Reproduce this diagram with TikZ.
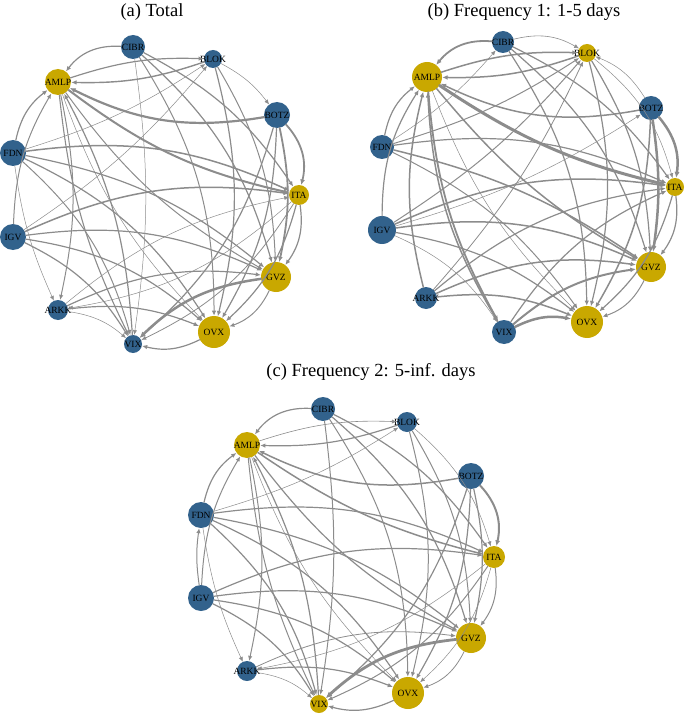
\documentclass[tikz,border=0pt]{standalone}
\usepackage{fontspec}
\setmainfont{Liberation Serif}
\usetikzlibrary{arrows.meta}
\definecolor{nblue}{RGB}{50,98,140}
\definecolor{ngold}{RGB}{201,168,0}
\definecolor{egray}{RGB}{140,140,140}
\newcommand{\nodefnt}{\fontsize{9.5}{10}\selectfont}
\newcommand{\ttlfnt}{\fontsize{18.5}{20}\selectfont}
\tikzset{
  vb/.style={circle, fill=nblue, draw=none, inner sep=0pt, font=\nodefnt, text=black},
  vg/.style={circle, fill=ngold, draw=none, inner sep=0pt, font=\nodefnt, text=black},
  edge/.style={draw=egray, -{Latex[length=4.5pt 0.6,width=3.8pt 0.6]}, line cap=round},
  ttl/.style={font=\ttlfnt, inner sep=0pt}
}
\begin{document}
\begin{tikzpicture}[x=1pt,y=-1pt]
\useasboundingbox (0,0) rectangle (685,714);
% titles
\node[ttl] (ta) at (152,12) {(a) Total};
\node[ttl] (tb) at (524,12) {(b) Frequency 1: 1-5 days};
\node[ttl] (tc) at (371,372) {(c) Frequency 2: 5-inf. days};
% ---------- panel a nodes
\foreach \n/\x/\y/\r/\c in {CIBR/133/47/12/vb, BLOK/213/59/9/vb, AMLP/58/82/13/vg, BOTZ/277/115/13/vb,
  FDN/13/153/13/vb, ITA/299/195/10/vg, IGV/13/237/13/vb, GVZ/276/277/15/vg, ARKK/58/310/10/vb,
  OVX/214/332/16/vg, VIX/133/344/9/vb}
  \node[\c, minimum size={2*\r pt}] (a-\n) at (\x,\y) {\makebox[0pt]{\n}};
% ---------- panel b nodes
\foreach \n/\x/\y/\r/\c in {CIBR/503/42/11/vb, BLOK/587/53/9/vg, AMLP/427/77/15/vg, BOTZ/651/108/12/vb,
  FDN/382/147/12/vb, ITA/675/187/9/vg, IGV/382/230/14/vb, GVZ/651/267/15/vg, ARKK/426/298/11/vb,
  OVX/587/322/16/vg, VIX/504/332/12/vb}
  \node[\c, minimum size={2*\r pt}] (b-\n) at (\x,\y) {\makebox[0pt]{\n}};
% ---------- panel c nodes
\foreach \n/\x/\y/\r/\c in {CIBR/323/409/12/vb, BLOK/407/422/10/vb, AMLP/247/445/13/vg, BOTZ/471/476/13/vb,
  FDN/201/515/13/vb, ITA/494/557/11/vg, IGV/201/598/13/vb, GVZ/471/638/15/vg, ARKK/247/671/10/vb,
  OVX/408/693/16/vg, VIX/319/704/9/vg}
  \node[\c, minimum size={2*\r pt}] (c-\n) at (\x,\y) {\makebox[0pt]{\n}};
% ---------- panel a edges
\foreach \s/\t/\w/\b in {
  CIBR/AMLP/1.2/-28, BLOK/AMLP/1.4/10, AMLP/BLOK/1.2/10, BOTZ/AMLP/2.2/18,
  AMLP/ITA/2.0/-12, AMLP/GVZ/1.0/-12, AMLP/OVX/0.5/-12, AMLP/VIX/1.1/-10, VIX/AMLP/1.2/-12, AMLP/ARKK/1.0/12,
  CIBR/ITA/1.2/14, CIBR/GVZ/1.2/16, CIBR/OVX/1.0/16, CIBR/VIX/0.5/8,
  BLOK/OVX/1.2/14, BLOK/GVZ/1.0/14, BLOK/BOTZ/0.5/12,
  BOTZ/ITA/1.8/28, BOTZ/GVZ/1.8/12, BOTZ/OVX/1.2/14, BOTZ/VIX/1.2/16,
  ITA/GVZ/1.2/22, ITA/OVX/1.2/16, ITA/VIX/0.8/16, ITA/ARKK/0.5/16,
  FDN/AMLP/1.2/20, FDN/BLOK/0.5/-8, FDN/ITA/1.5/16, FDN/GVZ/1.2/14, FDN/OVX/1.2/16, FDN/VIX/1.0/16, FDN/ARKK/0.5/-8,
  IGV/AMLP/1.0/14, IGV/BLOK/0.5/-8, IGV/ITA/1.5/16, IGV/GVZ/1.2/16, IGV/OVX/1.2/16, IGV/VIX/1.2/16,
  ARKK/GVZ/1.2/16, ARKK/OVX/1.2/14, ARKK/VIX/0.5/16, ARKK/ITA/0.5/14,
  GVZ/VIX/2.5/-18, GVZ/OVX/1.0/22, OVX/VIX/1.2/20}
  \draw[edge, line width=\w pt] (a-\s) to[bend left=\b] (a-\t);
% ---------- panel b edges
\foreach \s/\t/\w/\b in {
  CIBR/AMLP/1.8/-28, FDN/CIBR/0.5/-8, CIBR/BLOK/0.6/22, AMLP/BLOK/1.5/10, BLOK/AMLP/1.5/10,
  FDN/BLOK/1.0/-8, IGV/BLOK/1.0/-8, ARKK/BLOK/0.8/-8, IGV/BOTZ/0.5/-8,
  BOTZ/AMLP/1.5/18, AMLP/ITA/3.0/-10, AMLP/GVZ/1.5/-10, AMLP/OVX/0.5/-12, AMLP/VIX/1.8/-12,
  ARKK/AMLP/1.5/14, VIX/AMLP/1.5/14, IGV/AMLP/1.2/16, FDN/AMLP/1.2/20,
  FDN/ITA/1.2/16, FDN/GVZ/1.5/10, FDN/OVX/1.0/14,
  IGV/ITA/1.5/16, IGV/GVZ/1.5/16, IGV/OVX/1.2/14, IGV/VIX/0.5/16,
  ARKK/ITA/1.2/16, ARKK/GVZ/1.5/16, ARKK/OVX/1.5/14,
  CIBR/ITA/1.2/14, CIBR/GVZ/1.2/16, CIBR/OVX/1.2/16,
  BLOK/OVX/1.2/14, BLOK/GVZ/1.2/14, BOTZ/BLOK/0.5/-18, BLOK/ITA/0.5/18,
  BOTZ/ITA/2.5/24, BOTZ/GVZ/2.5/8, BOTZ/OVX/1.5/14,
  ITA/GVZ/1.2/22, ITA/OVX/1.2/16,
  VIX/OVX/2.5/18, VIX/GVZ/2.0/16, VIX/ITA/1.2/16, GVZ/OVX/1.0/22}
  \draw[edge, line width=\w pt] (b-\s) to[bend left=\b] (b-\t);
% ---------- panel c edges
\foreach \s/\t/\w/\b in {
  CIBR/AMLP/1.2/-28, BLOK/AMLP/1.2/10, AMLP/BLOK/0.6/10, BOTZ/AMLP/1.5/18,
  AMLP/ITA/1.5/-10, AMLP/GVZ/1.2/-12, AMLP/OVX/0.5/-12, AMLP/VIX/1.0/-10, VIX/AMLP/1.2/-12, AMLP/ARKK/1.0/12,
  FDN/AMLP/1.2/20, IGV/FDN/1.0/8, IGV/AMLP/1.0/14, FDN/BLOK/0.5/-8, FDN/ARKK/0.5/-8,
  CIBR/ITA/1.2/14, CIBR/GVZ/1.2/16, CIBR/OVX/1.0/16, CIBR/VIX/1.0/8,
  BLOK/OVX/1.0/14, BLOK/GVZ/1.0/14, BLOK/ITA/0.5/16,
  BOTZ/ITA/2.0/28, BOTZ/GVZ/1.2/12, BOTZ/OVX/1.2/14, BOTZ/VIX/1.2/16,
  ITA/GVZ/1.0/22, ITA/OVX/0.5/16, ITA/VIX/1.0/16, ITA/ARKK/0.5/14,
  FDN/ITA/1.2/16, FDN/GVZ/1.2/14, FDN/OVX/1.2/16, FDN/VIX/1.2/16,
  IGV/ITA/1.2/16, IGV/GVZ/1.2/16, IGV/OVX/1.2/16, IGV/VIX/1.2/16,
  ARKK/GVZ/0.8/16, ARKK/OVX/1.2/14, ARKK/VIX/0.5/16,
  GVZ/VIX/2.8/-18, GVZ/OVX/0.8/22, OVX/VIX/1.2/20}
  \draw[edge, line width=\w pt] (c-\s) to[bend left=\b] (c-\t);
\end{tikzpicture}
\end{document}
